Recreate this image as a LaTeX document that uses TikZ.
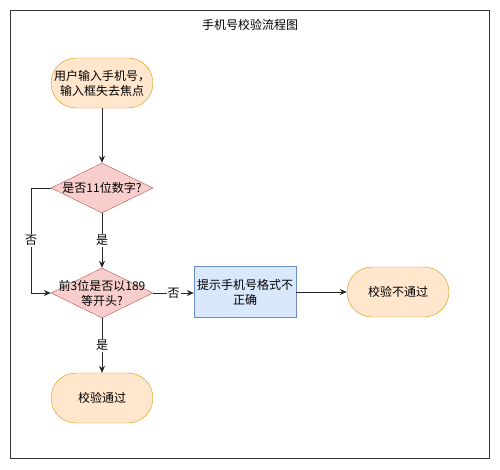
\documentclass[tikz,border=0pt]{standalone}
\usepackage{fontspec}
\setmainfont{Noto Sans CJK SC}
\usetikzlibrary{shapes.geometric,arrows.meta}
\definecolor{termfill}{HTML}{FFE6CC}
\definecolor{termdraw}{HTML}{D79B00}
\definecolor{decfill}{HTML}{F8CECC}
\definecolor{decdraw}{HTML}{B85450}
\definecolor{procfill}{HTML}{DAE8FC}
\definecolor{procdraw}{HTML}{6C8EBF}
\begin{document}
\begin{tikzpicture}[x=1pt,y=-1pt,
  every node/.style={font=\fontsize{12}{15}\selectfont, align=center, inner sep=0pt},
  term/.style={draw=termdraw, fill=termfill, rounded corners=25pt, minimum width=102pt, minimum height=50pt},
  dec/.style={draw=decdraw, fill=decfill, diamond, aspect=2.04, minimum width=102pt, minimum height=50pt},
  proc/.style={draw=procdraw, fill=procfill, minimum width=102pt, minimum height=51pt},
  conn/.style={draw=black!85, line width=0.9pt, -{Stealth[length=7pt,width=6pt]}},
  lbl/.style={fill=white, inner sep=1pt}]
\useasboundingbox (0,0) rectangle (500,469);
\draw[line width=0.9pt, draw=black!80] (10.5,10.5) rectangle (489.5,458);
\node (title) at (250,25) {手机号校验流程图};
\node[term] (start) at (102,83) {用户输入手机号，\\输入框失去焦点};
\node[dec, label={[align=center]center:是否11位数字?}] (d1) at (102,188) {};
\node[dec, label={[align=center]center:前3位是否以189\\等开头?}] (d2) at (102,293) {};
\node[proc] (msg) at (245,292) {提示手机号格式不\\正确};
\node[term] (fail) at (398,292) {校验不通过};
\node[term] (pass) at (102,398) {校验通过};
\coordinate (lt) at (31,188);
\coordinate (lb) at (31,293);
\draw[conn] (start) -- (d1);
\draw[conn] (d1) -- node[lbl] {是} (d2);
\draw[conn] (d1.west) -- (lt) -- node[lbl] {否} (lb) -- (d2.west);
\draw[conn] (d2.east) -- node[lbl] {否} (msg.west |- d2.east);
\draw[conn] (msg) -- (fail);
\draw[conn] (d2) -- node[lbl] {是} (pass);
\end{tikzpicture}
\end{document}
